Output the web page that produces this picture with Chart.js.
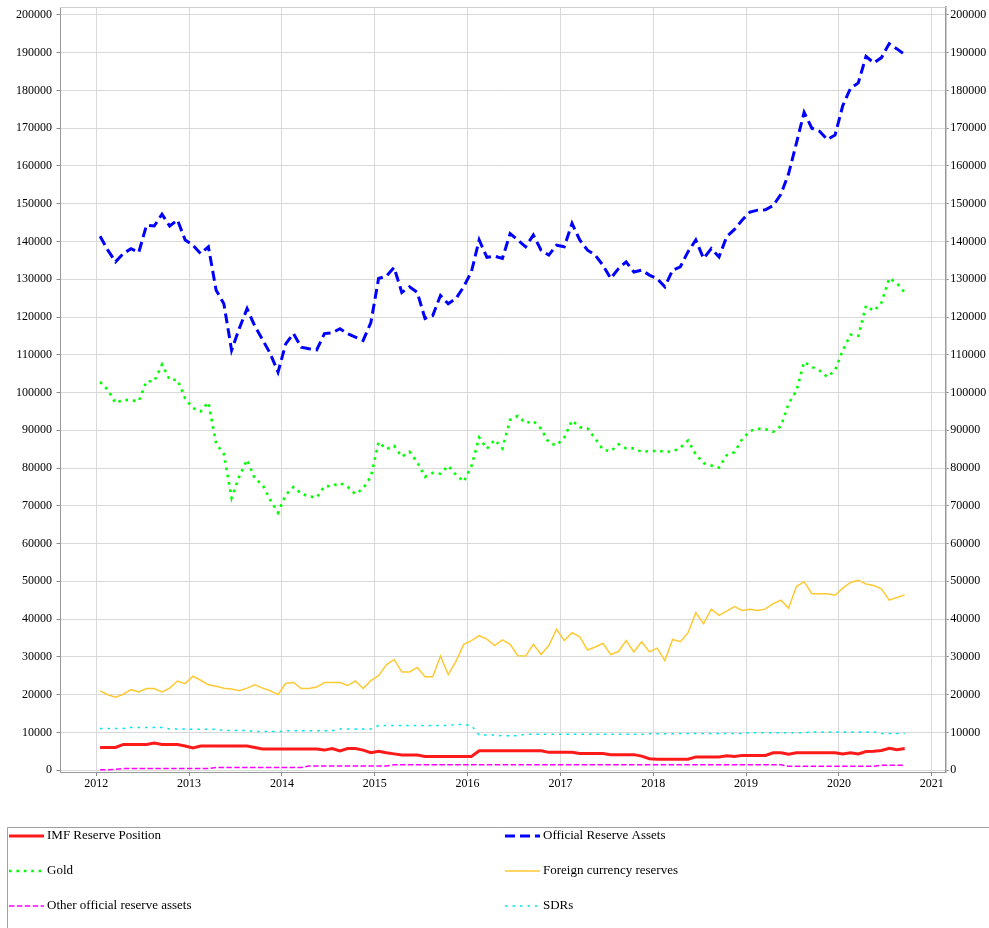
<!DOCTYPE html>
<html><head><meta charset="utf-8">
<script src="https://cdn.jsdelivr.net/npm/chart.js@4.4.0/dist/chart.umd.min.js"></script>
<style>html,body{margin:0;padding:0;background:#fff;}canvas{display:block;}</style>
</head><body>
<canvas id="c" width="989" height="928"></canvas>
<script>
// Monthly categories 2012-01 .. 2020-09
const months = [];
for (let y = 2012; y <= 2020; y++) for (let m = 1; m <= 12; m++) { if (y === 2020 && m > 9) break; months.push(y + '-' + String(m).padStart(2, '0')); }

const xTicks = [2012, 2013, 2014, 2015, 2016, 2017, 2018, 2019, 2020, 2021];
const yTicks = [0,10000,20000,30000,40000,50000,60000,70000,80000,90000,100000,110000,120000,130000,140000,150000,160000,170000,180000,190000,200000];

const imfReserve = [
 6000,6000,6000,6800,6800,6800,6800,7200,6800,6800,6800,6400,
 5900,6400,6400,6400,6400,6400,6400,6400,6000,5600,5600,5600,
 5600,5600,5600,5600,5600,5300,5700,5100,5700,5700,5300,4600,
 5000,4600,4300,4000,4000,4000,3600,3600,3600,3600,3600,3600,
 3600,5100,5100,5100,5100,5100,5100,5100,5100,5100,4700,4700,
 4700,4700,4400,4400,4400,4400,4100,4100,4100,4100,3700,3000,
 2900,2900,2900,2900,2900,3500,3500,3500,3500,3800,3600,3900,
 3900,3900,3900,4600,4600,4200,4600,4600,4600,4600,4600,4600,
 4300,4600,4300,4900,5000,5200,5800,5400,5700];
const officialReserve = [
 141400,137700,134600,136800,138100,137100,144300,144100,147200,144100,145700,140400,
 139000,136800,138600,127100,123500,111200,117000,122200,117600,114000,110300,105400,
 112900,115600,112000,111600,111300,115600,115800,116900,115600,114700,113800,118500,
 130200,130800,133100,126500,128000,126500,119600,120400,125700,123500,124900,128000,
 132000,140400,135800,136100,135500,142100,140400,138600,141700,137700,136400,139000,
 138600,144800,140400,137700,136400,133700,130200,132800,134600,131900,132400,131100,
 130200,128000,132400,133300,137300,140400,135500,138100,135900,141300,143200,145700,
 147800,148300,148400,149500,152500,158000,166000,174200,170000,169200,167000,168200,
 176000,180600,182000,189000,187300,188700,192400,191000,189500];
const gold = [
 102800,100700,97200,98100,97900,97700,103000,103000,107400,103400,103400,98400,
 95900,95000,97400,86500,83700,72100,77800,82200,77200,75600,71500,68200,
 72900,75000,73200,72500,72200,75200,75200,76100,75000,73100,74600,77700,
 86900,85000,85900,83000,84300,81500,77700,78700,78500,80600,78200,76400,
 80500,88100,85100,87500,85200,92800,93800,91900,92500,90400,86700,86000,
 88100,92600,90800,90500,87800,84900,84400,86300,85200,85200,84300,84500,
 84500,84400,84300,85400,87300,83600,81300,80700,80100,83400,84200,87700,
 89800,90400,90300,89600,91100,97100,100400,108100,106800,105800,104100,105900,
 111200,115300,115000,123000,121600,123800,130300,128900,126500];
const foreignCurrency = [
 21000,19950,19300,20100,21300,20700,21600,21600,20700,21700,23600,22900,
 24900,23800,22600,22200,21700,21500,21000,21700,22600,21700,21000,20000,
 23000,23200,21600,21600,22000,23200,23200,23200,22400,23600,21600,23700,
 25000,27900,29300,26000,26000,27200,24700,24700,30200,25300,28800,33300,
 34300,35600,34700,33000,34500,33300,30300,30200,33300,30600,33000,37300,
 34300,36400,35300,31800,32600,33600,30600,31400,34300,31300,34000,31300,
 32300,29000,34600,34000,36400,41700,38800,42600,41000,42100,43300,42300,
 42600,42300,42700,44100,45000,42900,48600,49900,46700,46700,46700,46300,
 48200,49700,50300,49300,48900,48000,45000,45700,46400];
const otherOfficial = [
 100,100,200,400,400,400,400,400,400,400,400,400,
 400,400,400,700,700,700,700,700,700,700,700,700,
 700,700,700,1100,1100,1100,1100,1100,1100,1100,1100,1100,
 1100,1100,1400,1400,1400,1400,1400,1400,1400,1400,1400,1400,
 1400,1400,1400,1400,1400,1400,1400,1400,1400,1400,1400,1400,
 1400,1400,1400,1400,1400,1400,1400,1400,1400,1400,1400,1400,
 1400,1400,1400,1400,1400,1400,1400,1400,1400,1400,1400,1400,
 1400,1400,1400,1400,1400,1000,1000,1000,1000,1000,1000,1000,
 1000,1000,1000,1000,1000,1300,1300,1300,1300];
const sdrs = [
 11000,11000,11000,11000,11300,11300,11300,11300,11300,10900,10900,10900,
 10800,10800,10800,10800,10500,10500,10500,10500,10200,10200,10200,10200,
 10400,10400,10400,10400,10400,10400,10400,10900,10900,10900,10900,10900,
 11800,11800,11800,11800,11800,11800,11800,11800,11800,11800,12100,12100,
 11800,9300,9300,9300,9100,9100,9100,9500,9500,9500,9500,9500,
 9500,9500,9500,9500,9500,9500,9500,9500,9500,9500,9500,9600,
 9600,9600,9600,9700,9700,9700,9700,9700,9700,9700,9700,9700,
 9900,9900,9900,9900,9900,9900,9900,9900,10100,10100,10100,10100,
 10100,10100,10100,10100,10100,9700,9700,9700,9700];

// month label -> decimal year at mid-month
function monthToX(s) { const [y, m] = s.split('-').map(Number); return y + (m - 0.5) / 12; }
function pts(vals) { return vals.map((v, i) => ({ x: monthToX(months[i]), y: v })); }

const FONT = "'Liberation Serif', 'Times New Roman', serif";

const datasets = [
 { label: 'IMF Reserve Position', data: pts(imfReserve), borderColor: '#ff1a1a', borderWidth: 3, order: 6 },
 { label: 'Official Reserve Assets', data: pts(officialReserve), borderColor: '#0000ff', borderWidth: 3, borderDash: [10, 5], order: 5 },
 { label: 'Gold', data: pts(gold), borderColor: '#00ff00', borderWidth: 2.6, borderDash: [2.6, 4.8], order: 4 },
 { label: 'Foreign currency reserves', data: pts(foreignCurrency), borderColor: '#ffc933', borderWidth: 1.5, order: 3 },
 { label: 'Other official reserve assets', data: pts(otherOfficial), borderColor: '#ff00ff', borderWidth: 1.5, borderDash: [5.5, 2.4], order: 2 },
 { label: 'SDRs', data: pts(sdrs), borderColor: '#00e6e6', borderWidth: 1.5, borderDash: [2.5, 5], order: 1 }
];
datasets.forEach(d => { d.pointRadius = 0; d.fill = false; d.tension = 0; d.borderCapStyle = 'butt'; d.borderJoinStyle = 'miter'; });

const legendPlugin = {
 id: 'boxLegend',
 beforeDatasetsDraw(chart) {
  const ctx = chart.ctx, a = chart.chartArea;
  ctx.save();
  ctx.strokeStyle = '#cfcfcf'; ctx.lineWidth = 1;
  ctx.beginPath(); ctx.moveTo(a.left, Math.round(a.top) + 0.5); ctx.lineTo(a.right, Math.round(a.top) + 0.5); ctx.stroke();
  ctx.restore();
 },
 afterDraw(chart) {
  const ctx = chart.ctx;
  ctx.save();
  ctx.strokeStyle = '#a0a0a0'; ctx.lineWidth = 1; ctx.setLineDash([]);
  ctx.beginPath(); ctx.moveTo(7.5, 930); ctx.lineTo(7.5, 827.5); ctx.lineTo(990, 827.5); ctx.stroke();
  chart.data.datasets.forEach((ds, k) => {
   const col = k % 2, row = Math.floor(k / 2);
   const x0 = col ? 505 : 9, y = 836 + row * 35;
   ctx.beginPath();
   ctx.setLineDash(ds.borderDash || []);
   ctx.strokeStyle = ds.borderColor; ctx.lineWidth = ds.borderWidth; ctx.lineCap = 'butt';
   ctx.moveTo(x0, y); ctx.lineTo(x0 + 35, y); ctx.stroke();
   ctx.setLineDash([]);
   ctx.fillStyle = '#000'; ctx.font = '13px ' + FONT; ctx.textBaseline = 'middle'; ctx.textAlign = 'left';
   ctx.fillText(ds.label, x0 + 38, y);
  });
  ctx.restore();
 }
};

const tickFont = { family: FONT, size: 12 };
const noPadV = s => { s.paddingTop = 0; s.paddingBottom = 0; };
new Chart(document.getElementById('c'), {
 type: 'line',
 data: { datasets },
 plugins: [legendPlugin],
 options: {
  responsive: false, animation: false, devicePixelRatio: 1,
  layout: { padding: { top: 7, left: 0, right: 0, bottom: 0 } },
  plugins: { legend: { display: false }, tooltip: { enabled: false } },
  scales: {
   x: {
    type: 'linear', min: 2011.61, max: 2021.15,
    afterBuildTicks: s => { s.ticks = xTicks.map(v => ({ value: v })); },
    afterFit: s => { s.height = 156; s.paddingLeft = 0; s.paddingRight = 0; },
    ticks: { font: tickFont, color: '#000', padding: 1, maxRotation: 0, autoSkip: false, callback: v => String(v) },
    grid: { color: '#d9d9d9', lineWidth: 1, tickLength: 4, tickColor: '#888' },
    border: { display: true, color: '#999', width: 1 }
   },
   y: {
    type: 'linear', position: 'left', min: -500, max: 202100,
    afterBuildTicks: s => { s.ticks = yTicks.map(v => ({ value: v })); },
    afterFit: s => { s.width = 60; noPadV(s); },
    ticks: { font: tickFont, color: '#000', padding: 4.5, autoSkip: false, callback: v => String(v) },
    grid: { color: '#d9d9d9', lineWidth: 1, tickLength: 3.5, tickColor: '#888' },
    border: { display: true, color: '#999', width: 1 }
   },
   y2: {
    type: 'linear', position: 'right', min: -500, max: 202100,
    afterBuildTicks: s => { s.ticks = yTicks.map(v => ({ value: v })); },
    afterFit: s => { s.width = 43.3; noPadV(s); },
    ticks: { font: tickFont, color: '#000', padding: 1.5, autoSkip: false, callback: v => String(v) },
    grid: { drawOnChartArea: false, tickLength: 3, tickColor: '#888' },
    border: { display: true, color: '#999', width: 1.5 }
   }
  }
 }
});
</script>
</body></html>
